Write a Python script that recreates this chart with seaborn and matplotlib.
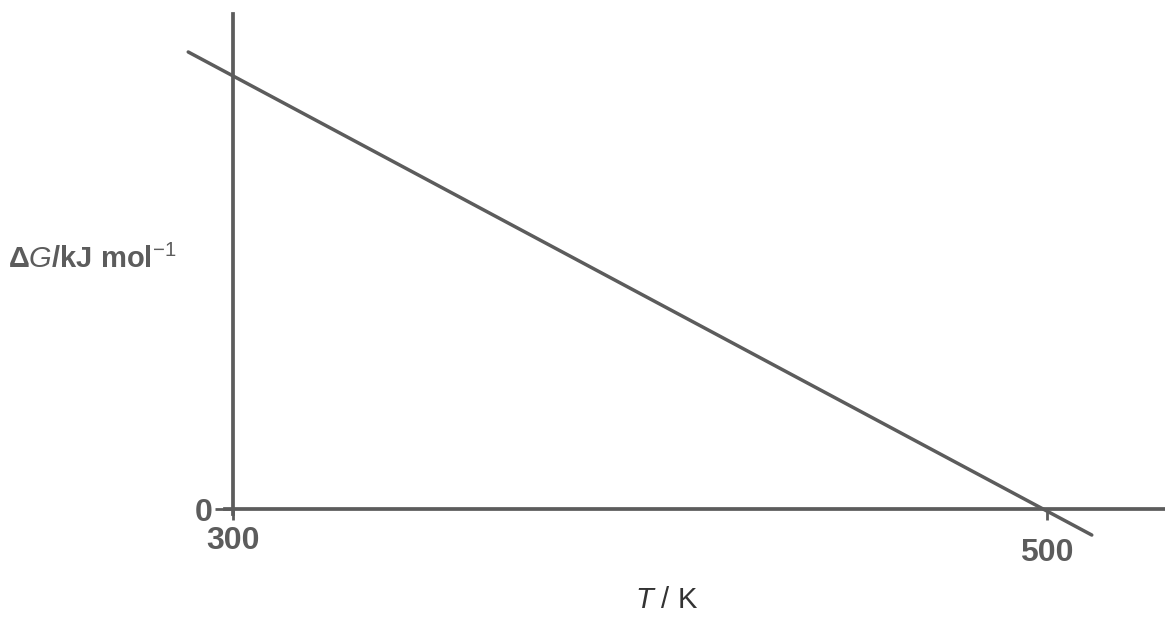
import matplotlib
matplotlib.use('Agg')
import matplotlib.pyplot as plt
import matplotlib.transforms as mtransforms
import seaborn as sns
import pandas as pd

# values (Delta G in arbitrary units, 0 at T = 500 K)
temps = [289, 511]
delta_g = [42.2, -2.4]
xtick_vals = [300, 500]
xtick_labels = ['300', '500']
ytick_vals = [0]
ytick_labels = ['0']

sns.set_style('white')
plt.rcParams['font.family'] = ['Liberation Sans', 'DejaVu Sans']
plt.rcParams['mathtext.fontset'] = 'custom'
plt.rcParams['mathtext.it'] = 'Liberation Sans:italic'
plt.rcParams['mathtext.rm'] = 'Liberation Sans'

ink = '#5c5c5c'
df = pd.DataFrame({'T': temps, 'dG': delta_g})

fig = plt.figure(figsize=(11.65, 6.18), dpi=100)
ax = fig.add_axes([0, 0, 1, 1])
sns.lineplot(data=df, x='T', y='dG', color=ink, linewidth=2.5, ax=ax)

ax.set_xlim(242.75, 528.99)
ax.set_ylim(-10.06, 47.0)

for s in ['top', 'right']:
    ax.spines[s].set_visible(False)
ax.spines['left'].set_position(('data', 300))
ax.spines['left'].set_bounds(-0.5, 45.7)
ax.spines['bottom'].set_position(('data', 0))
ax.spines['bottom'].set_bounds(298, 529)
for s in ['left', 'bottom']:
    ax.spines[s].set_color(ink)
    ax.spines[s].set_linewidth(2.7)

ax.set_xticks(xtick_vals, xtick_labels)
ax.set_yticks(ytick_vals, ytick_labels)
ax.tick_params(axis='x', direction='out', length=8, width=2, color=ink, pad=4,
               labelsize=23, labelcolor=ink, bottom=True)
ax.tick_params(axis='y', direction='out', length=13, width=2, color=ink, pad=2,
               labelsize=23, labelcolor=ink, left=True)
for lab in ax.get_xticklabels() + ax.get_yticklabels():
    lab.set_fontweight('bold')

# the scanned axis slants a little, so the 500 label sits lower
shift = mtransforms.ScaledTranslation(0, -0.12, fig.dpi_scale_trans)
lab500 = ax.get_xticklabels()[1]
lab500.set_transform(lab500.get_transform() + shift)

ax.set_ylabel(r'Δ$\mathit{G}$/kJ mol$^{-1}$', rotation=0, fontsize=21,
              color=ink, fontweight='bold', ha='left', va='center')
ax.yaxis.set_label_coords(8 / 1165, (618 - 259) / 618)
ax.set_xlabel(r'$\mathit{T}$ / K', fontsize=21, color='#333333', va='center')
ax.xaxis.set_label_coords(667 / 1165, (618 - 600) / 618)

fig.savefig('out.png', dpi=100)
